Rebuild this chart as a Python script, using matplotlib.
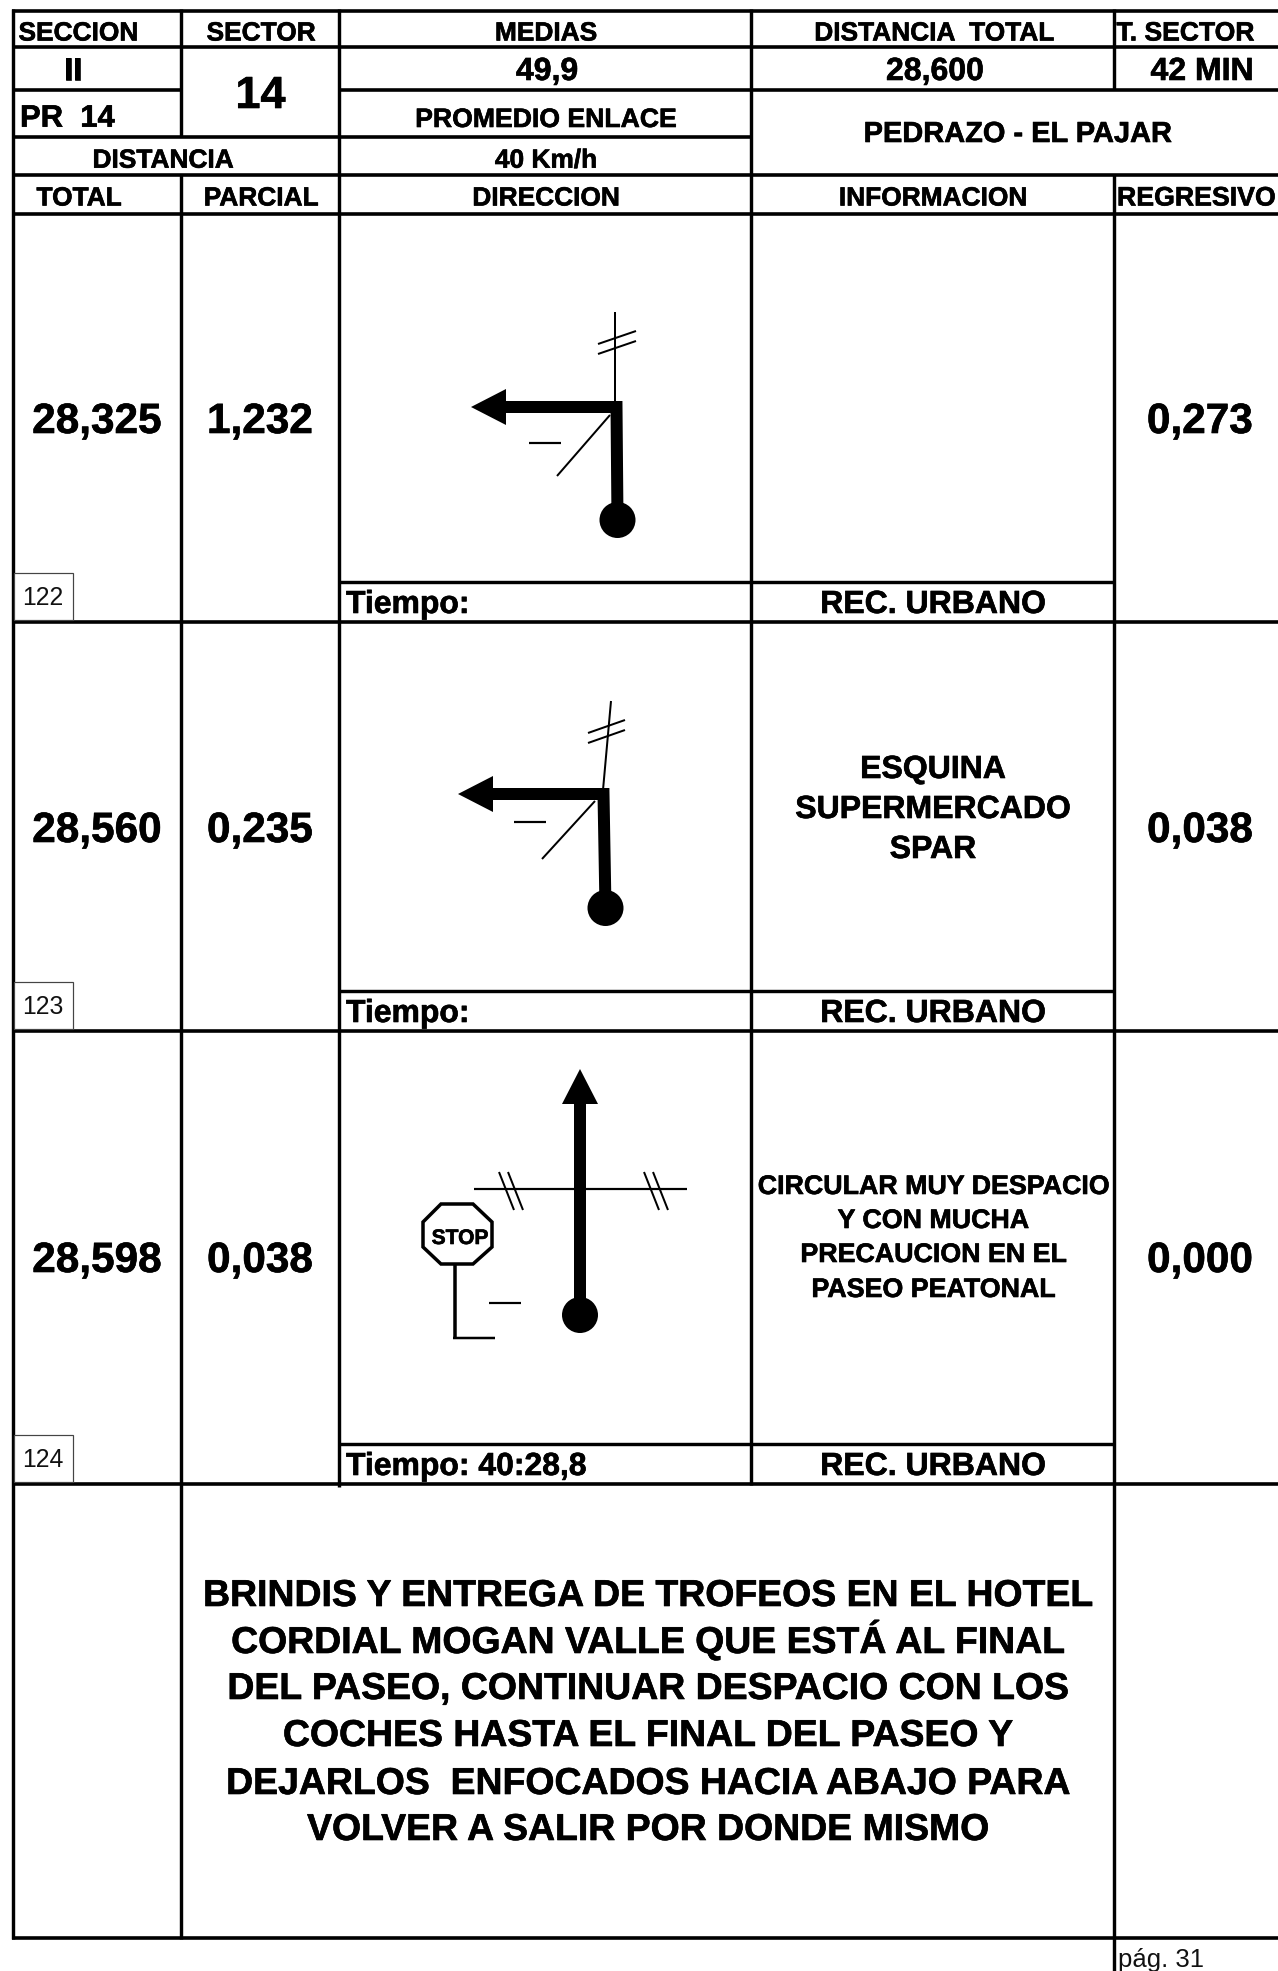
"""
plot.py - road book page (sector 14) redrawn on a pixel canvas.
Output: out.png
"""

import matplotlib
matplotlib.use("Agg")
import matplotlib.patheffects as pe
import matplotlib.pyplot as plt
from matplotlib.patches import Circle, Polygon, Rectangle

plt.rcParams["font.family"] = ["Liberation Sans", "DejaVu Sans"]

W, H = 1278, 1971
PT = 0.72  # px -> pt at dpi 100

# --- content ---
header_labels = ["SECCION", "SECTOR", "MEDIAS", "DISTANCIA  TOTAL", "T. SECTOR"]
header_values = ["II", "14", "49,9", "28,600", "42 MIN"]
column_labels = ["TOTAL", "PARCIAL", "DIRECCION", "INFORMACION", "REGRESIVO"]
stage_name = "PEDRAZO - EL PAJAR"

row_ids = ["122", "123", "124"]
total_km = ["28,325", "28,560", "28,598"]
partial_km = ["1,232", "0,235", "0,038"]
remaining_km = ["0,273", "0,038", "0,000"]
tiempo = ["Tiempo:", "Tiempo:", "Tiempo: 40:28,8"]
zone = ["REC. URBANO", "REC. URBANO", "REC. URBANO"]
info_123 = ["ESQUINA", "SUPERMERCADO", "SPAR"]
info_124 = ["CIRCULAR MUY DESPACIO", "Y CON MUCHA", "PRECAUCION EN EL", "PASEO PEATONAL"]
closing = [
    "BRINDIS Y ENTREGA DE TROFEOS EN EL HOTEL",
    "CORDIAL MOGAN VALLE QUE ESTÁ AL FINAL",
    "DEL PASEO, CONTINUAR DESPACIO CON LOS",
    "COCHES HASTA EL FINAL DEL PASEO Y",
    "DEJARLOS  ENFOCADOS HACIA ABAJO PARA",
    "VOLVER A SALIR POR DONDE MISMO",
]

# --- grid layout (px) ---
X0, X1, X2, X3, X4 = 12.5, 181.3, 338.7, 751.3, 1113.5
row_bottoms = [622, 1031, 1484]
tiempo_lines = [582, 990.5, 1443.5]
num_baselines = [433, 842, 1272]

fig = plt.figure(figsize=(W / 100, H / 100), dpi=100)
ax = fig.add_axes([0, 0, 1, 1])
ax.set_xlim(0, W)
ax.set_ylim(H, 0)
ax.axis("off")


def seg(x, y, lw=3.4, cap="butt"):
    ax.plot(x, y, color="black", lw=lw * PT, solid_capstyle=cap,
            solid_joinstyle="miter")


def txt(x, y, s, px, ha="center"):
    t = ax.text(x, y, s, fontsize=px * PT, ha=ha, va="baseline",
                fontweight="bold", color="black")
    t.set_path_effects([pe.withStroke(linewidth=0.45, foreground="black")])
    return t


# --- grid lines ---
for y in [10.7, 47.3, 175, 214] + row_bottoms + [1938]:
    seg([X0 - 1, W], [y, y], lw=3.6)
seg([X0, X1], [90, 90], lw=3.6)
seg([X2, W], [90, 90], lw=3.6)
seg([X0, X3], [136.7, 136.7], lw=3.6)
for y in tiempo_lines:
    seg([X2, X4], [y, y])

seg([X0, X0], [9, 1939])
seg([X1, X1], [9, 137])
seg([X1, X1], [175, 1939])
seg([X2, X2], [9, 1487])
seg([X3, X3], [9, 1485])
seg([X4, X4], [9, 90])
seg([X4, X4], [175, H])

# --- header block ---
txt(18.5, 40.5, header_labels[0], 26.3, ha="left")
txt(261, 40.5, header_labels[1], 26.3)
txt(546, 40.5, header_labels[2], 26.3)
txt(934, 40.5, header_labels[3], 26.3)
txt(1116.5, 40.5, header_labels[4], 26.5, ha="left")

txt(73, 80, header_values[0], 32)
txt(260.5, 108, header_values[1], 45)
txt(547, 80, header_values[2], 32)
txt(935, 80, header_values[3], 32)
txt(1202, 80, header_values[4], 32)

txt(20, 126.7, "PR  14", 31, ha="left")
txt(546, 127, "PROMEDIO ENLACE", 26.6)
txt(163, 167.7, "DISTANCIA", 26.3)
txt(546, 167.7, "40 Km/h", 26.3)
txt(1018, 142, stage_name, 29)

txt(79, 205.5, column_labels[0], 26.3)
txt(261, 205.5, column_labels[1], 26.3)
txt(546, 205.5, column_labels[2], 26.3)
txt(933, 205.5, column_labels[3], 26.3)
txt(1117, 205.5, column_labels[4], 26.7, ha="left")

# --- data rows ---
for i in range(3):
    b = row_bottoms[i]
    txt(97, num_baselines[i], total_km[i], 42.3)
    txt(260, num_baselines[i], partial_km[i], 42.3)
    txt(1200, num_baselines[i], remaining_km[i], 42.3)
    txt(346, b - 9, tiempo[i], 31.9, ha="left")
    txt(933, b - 9, zone[i], 32)
    ax.add_patch(Rectangle((X0 + 1, b - 49), 59, 47, fill=True, fc="white",
                           ec="#444444", lw=1.2 * PT, zorder=3))
    ax.text(43, b - 17, row_ids[i], fontsize=24.8 * PT, ha="center",
            va="baseline", color="#111111", zorder=4)

for y, s in zip([778, 818, 858], info_123):
    txt(933, y, s, 32)
for y, s in zip([1194, 1228, 1262, 1297], info_124):
    txt(933, y, s, 26.8)

for y, s in zip([1606, 1653, 1699, 1746, 1794, 1840], closing):
    txt(648, y, s, 37.4)

ax.text(1118, 1967, "pág. 31", fontsize=25.6 * PT, ha="left", va="baseline",
        color="#111111")


# --- route diagrams ---
def route(ball, corner, base, tip, head=18, shaft=12):
    seg([ball[0], corner[0], base[0]], [ball[1], corner[1], base[1]], lw=shaft)
    ax.add_patch(Circle(ball, 18, color="black", lw=0))
    if base[1] == tip[1]:
        pts = [tip, (base[0], base[1] - head), (base[0], base[1] + head)]
    else:
        pts = [tip, (base[0] - head, base[1]), (base[0] + head, base[1])]
    ax.add_patch(Polygon(pts, closed=True, color="black", lw=0))


# 122
route((617.5, 520), (616.5, 407), (506, 407), (471, 407))
seg([615, 615], [312, 402], lw=2)
seg([598, 636], [344, 331], lw=2)
seg([598, 636], [354, 341], lw=2)
seg([610, 557], [415, 476], lw=2)
seg([529, 561], [443, 443], lw=2.2)

# 123
route((605.5, 908), (603.5, 794), (493, 794), (458, 794))
seg([603, 611], [790, 701], lw=2)
seg([588, 625], [733, 720], lw=2)
seg([588, 625], [743, 730], lw=2)
seg([595, 542], [801, 859], lw=2)
seg([514, 546], [822, 822], lw=2.2)

# 124
route((580, 1315), (580, 1200), (580, 1104), (580, 1069))
seg([474, 687], [1189, 1189], lw=2.2)
for x in [499, 508, 644, 653]:
    seg([x, x + 15], [1172, 1210], lw=2)
ax.add_patch(Polygon([(441, 1204), (473, 1204), (492, 1222), (492, 1247),
                      (473, 1264), (441, 1264), (423, 1247), (423, 1222)],
                     closed=True, fill=False, ec="black", lw=3.5 * PT))
txt(460, 1244, "STOP", 21)
seg([455, 455], [1264, 1339], lw=3.5)
seg([453, 495], [1338, 1338], lw=2.5)
seg([489, 521], [1303, 1303], lw=2.2)

fig.savefig("out.png", dpi=100)
plt.close(fig)
